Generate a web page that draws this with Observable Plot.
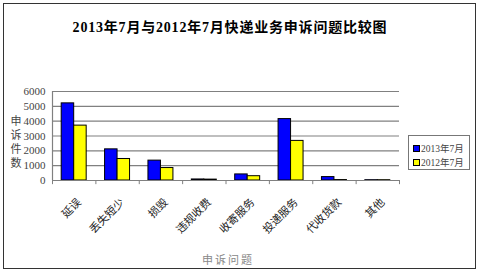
<!DOCTYPE html>
<html><head><meta charset="utf-8">
<script src="https://cdn.jsdelivr.net/npm/d3@7"></script>
<script src="https://cdn.jsdelivr.net/npm/@observablehq/plot@0.6"></script>
<style>
body{margin:0;background:#fff;}
#wrap{position:relative;width:480px;height:272px;overflow:hidden;font-family:"Liberation Serif","Noto Sans CJK SC",serif;}
#frame{position:absolute;left:3px;top:3px;width:471px;height:264px;border:1px solid #333;box-sizing:content-box;}
#title{position:absolute;left:0;width:460px;top:16px;text-align:center;font-size:14px;font-weight:bold;color:#000;letter-spacing:0.8px;}
#ylab{position:absolute;left:9px;top:114px;width:14px;font-size:11px;line-height:14px;color:#444;text-align:center;}
#xlab{position:absolute;left:0;width:456px;top:251px;text-align:center;font-size:11px;color:#888;letter-spacing:2px;}
#legend{position:absolute;left:408px;top:135px;width:60px;height:33px;border:1px solid #777;font-size:9.5px;color:#444;}
.li{position:absolute;left:4px;display:flex;align-items:center;}
.sw{width:5px;height:5px;border:1px solid #000;margin-right:1px;}
svg{position:absolute;left:0;top:0;}
</style></head>
<body><div id="wrap"></div>
<script>
const categories = ["延误","丢失短少","损毁","违规收费","收寄服务","投递服务","代收货款","其他"];
const series = ["2013年7月","2012年7月"];
const v2013 = [5200,2100,1340,70,410,4140,230,20];
const v2012 = [3700,1450,840,60,290,2670,30,20];
const yTicks = [0,1000,2000,3000,4000,5000,6000];
const colors = ["#0000FF","#FFFF00"];

const data = categories.map((c,i)=>({category:c, y2013:v2013[i], y2012:v2012[i]}));
const mL = 52, mR = 81, W = 480;
const step = (W - mL - mR) / categories.length;
const outer = step * 0.212, mid = step * 0.5;

const plot = Plot.plot({
  width: W, height: 272,
  marginLeft: mL, marginRight: mR, marginTop: 91, marginBottom: 92,
  style: {background: "transparent", fontFamily: "'Liberation Serif','Noto Sans CJK SC',serif"},
  x: {domain: categories, padding: 0, round: false, label: null},
  y: {domain: [0, 6000], label: null},
  marks: [
    Plot.gridY(yTicks, {stroke: "#808080", strokeOpacity: 1, strokeWidth: 1.2}),
    Plot.ruleX([categories[0]], {dx: -step/2, stroke: "#808080", strokeWidth: 1.2}),
    Plot.barY(data, {x: "category", y: "y2013", fill: colors[0], stroke: "#000", strokeWidth: 1, insetLeft: outer, insetRight: step - mid}),
    Plot.barY(data, {x: "category", y: "y2012", fill: colors[1], stroke: "#000", strokeWidth: 1, insetLeft: mid, insetRight: outer}),
    Plot.ruleY([0], {stroke: "#808080", strokeWidth: 1.2}),
    Plot.ruleX(categories, {dx: -step/2, y1: 0, y2: -280, stroke: "#808080"}),
    Plot.ruleX([categories[categories.length-1]], {dx: step/2, y1: 0, y2: -280, stroke: "#808080"}),
    Plot.axisY(yTicks, {tickSize: 0, tickPadding: 7, fontSize: 11, fill: "#444", tickFormat: d3.format("d")}),
    Plot.axisX({tickSize: 0, tickRotate: -45, tickPadding: 12, dx: 5, dy: 8, fontSize: 11, fill: "#222", label: null})
  ]
});

const wrap = document.getElementById("wrap");
wrap.appendChild(plot);
wrap.insertAdjacentHTML("beforeend", `
<div id="frame"></div>
<div id="title">2013年7月与2012年7月快递业务申诉问题比较图</div>
<div id="ylab">申<br>诉<br>件<br>数</div>
<div id="xlab">申诉问题</div>
<div id="legend">
  <div class="li" style="top:5px"><div class="sw" style="background:${colors[0]}"></div>${series[0]}</div>
  <div class="li" style="top:19px"><div class="sw" style="background:${colors[1]}"></div>${series[1]}</div>
</div>`);
</script>
</body></html>
